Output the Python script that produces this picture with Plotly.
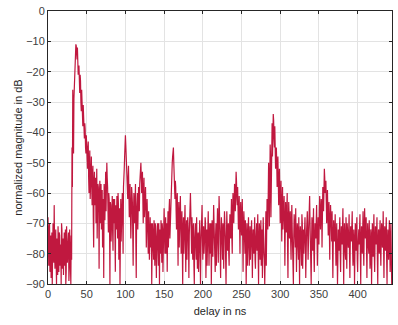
import numpy as np
import plotly.graph_objects as go

# normalized magnitude in dB at whole ns (0 .. 444 ns)
mag_db_whole = [
    -68, -84, -70, -79, -88, -73, -81, -76, -64, -85,   # 0
    -72, -90, -77, -71, -86, -74, -82, -90, -72, -80,   # 10
    -87, -73, -78, -90, -71, -83, -76, -89, -72, -81,   # 20
    -74, -45, -26, -47, -25, -16, -11, -14, -12, -21,   # 30
    -18, -27, -23, -33, -29, -38, -35, -42, -39, -47,   # 40
    -44, -52, -43, -60, -46, -56, -48, -64, -51, -78,   # 50
    -53, -60, -70, -52, -66, -58, -85, -56, -64, -72,   # 60
    -59, -68, -88, -61, -55, -66, -50, -58, -73, -62,   # 70
    -90, -64, -70, -61, -79, -66, -62, -86, -68, -61,   # 80
    -75, -64, -70, -90, -62, -72, -60, -80, -56, -48,   # 90
    -41, -47, -52, -62, -51, -68, -57, -75, -58, -63,   # 100
    -84, -60, -70, -57, -88, -62, -72, -58, -66, -54,   # 110
    -50, -60, -53, -70, -55, -64, -58, -78, -62, -74,   # 120
    -66, -82, -68, -72, -90, -70, -78, -69, -84, -71,   # 130
    -88, -73, -79, -70, -90, -75, -69, -83, -72, -77,   # 140
    -65, -80, -68, -74, -86, -66, -72, -62, -70, -58,   # 150
    -52, -48, -45, -55, -62, -58, -72, -60, -84, -63,   # 160
    -74, -61, -80, -66, -90, -68, -75, -64, -86, -69,   # 170
    -77, -71, -88, -66, -60, -74, -68, -82, -70, -90,   # 180
    -72, -78, -68, -85, -73, -80, -69, -90, -74, -64,   # 190
    -82, -71, -77, -68, -88, -72, -79, -66, -84, -70,   # 200
    -76, -90, -69, -81, -64, -75, -86, -70, -78, -65,   # 210
    -83, -61, -72, -88, -68, -77, -70, -85, -66, -74,   # 220
    -90, -66, -79, -70, -84, -67, -75, -62, -80, -60,   # 230
    -70, -57, -66, -53, -62, -58, -72, -61, -80, -63,   # 240
    -74, -62, -86, -66, -76, -69, -90, -70, -78, -68,   # 250
    -84, -71, -77, -69, -88, -72, -80, -68, -85, -73,   # 260
    -79, -67, -90, -70, -82, -69, -76, -88, -68, -80,   # 270
    -90, -70, -84, -62, -72, -50, -71, -44, -68, -40,   # 280
    -48, -34, -42, -38, -52, -45, -58, -48, -64, -52,   # 290
    -70, -56, -76, -58, -68, -61, -84, -63, -73, -60,   # 300
    -88, -63, -75, -66, -82, -64, -78, -90, -67, -74,   # 310
    -65, -86, -70, -78, -68, -90, -71, -80, -67, -85,   # 320
    -72, -77, -68, -88, -73, -66, -82, -70, -61, -76,   # 330
    -90, -68, -79, -65, -86, -70, -75, -64, -84, -68,   # 340
    -77, -61, -72, -62, -78, -58, -66, -52, -60, -56,   # 350
    -70, -59, -74, -63, -82, -64, -71, -66, -88, -69,   # 360
    -76, -67, -84, -70, -90, -72, -79, -68, -86, -71,   # 370
    -77, -65, -90, -70, -80, -68, -85, -73, -78, -67,   # 380
    -88, -71, -76, -66, -84, -72, -90, -70, -79, -68,   # 390
    -86, -73, -77, -67, -90, -71, -80, -66, -84, -65,   # 400
    -75, -68, -88, -70, -78, -69, -85, -72, -90, -70,   # 410
    -81, -67, -86, -71, -77, -68, -90, -72, -80, -69,   # 420
    -84, -70, -78, -66, -88, -71, -79, -68, -90, -72,   # 430
    -82, -69, -86, -70, -90,                            # 440
]

# normalized magnitude in dB at half ns (0.5 .. 443.5 ns)
mag_db_half = [
    -76, -72, -86, -74, -80, -90, -70, -83, -78, -74,   # 0.5
    -82, -75, -87, -79, -73, -84, -77, -70, -85, -75,   # 10.5
    -79, -84, -72, -86, -75, -80, -73, -85, -78, -90,   # 20.5
    -82, -58, -38, -29, -20, -13, -11.5, -16, -15, -19,  # 30.5
    -24, -21, -30, -26, -34, -31, -40, -37, -45, -41,   # 40.5
    -48, -45, -55, -50, -62, -49, -58, -54, -68, -56,   # 50.5
    -64, -55, -60, -75, -57, -63, -60, -70, -57, -66,   # 60.5
    -78, -62, -57, -69, -53, -60, -55, -66, -60, -70,   # 70.5
    -63, -76, -66, -73, -62, -70, -78, -64, -72, -66,   # 80.5
    -60, -82, -65, -67, -76, -63, -68, -58, -52, -44,   # 90.5
    -44, -50, -58, -55, -60, -64, -62, -69, -60, -72,   # 100.5
    -66, -64, -62, -76, -66, -60, -68, -62, -57, -52,   # 110.5
    -55, -57, -62, -60, -68, -61, -66, -70, -67, -80,   # 120.5
    -71, -75, -78, -70, -76, -73, -82, -75, -70, -79,   # 130.5
    -76, -70, -84, -74, -72, -80, -76, -70, -86, -68,   # 140.5
    -72, -75, -80, -70, -74, -78, -65, -75, -64, -55,   # 150.5
    -50, -46, -50, -60, -56, -66, -63, -70, -68, -78,   # 160.5
    -66, -70, -73, -78, -72, -80, -70, -76, -73, -82,   # 170.5
    -68, -76, -74, -70, -66, -80, -75, -72, -84, -76,   # 180.5
    -70, -82, -75, -76, -86, -72, -76, -80, -70, -73,   # 190.5
    -76, -80, -74, -70, -78, -84, -72, -76, -75, -80,   # 200.5
    -70, -80, -74, -76, -70, -80, -74, -84, -72, -74,   # 210.5
    -70, -66, -80, -74, -72, -82, -75, -72, -70, -80,   # 220.5
    -76, -72, -76, -80, -72, -70, -68, -74, -66, -64,   # 230.5
    -62, -60, -57, -56, -64, -66, -68, -70, -66, -70,   # 240.5
    -68, -74, -72, -70, -80, -74, -76, -84, -72, -76,   # 250.5
    -76, -82, -72, -76, -78, -74, -70, -82, -76, -70,   # 260.5
    -74, -80, -76, -72, -76, -84, -72, -76, -74, -82,   # 270.5
    -76, -66, -72, -66, -60, -56, -52, -48, -50, -37,   # 280.5
    -40, -36, -45, -42, -48, -50, -54, -56, -58, -62,   # 290.5
    -62, -66, -64, -72, -66, -70, -72, -68, -66, -78,   # 300.5
    -70, -68, -72, -76, -70, -72, -82, -74, -70, -78,   # 310.5
    -74, -76, -72, -82, -76, -74, -74, -84, -70, -76,   # 320.5
    -80, -72, -76, -80, -70, -74, -76, -64, -70, -84,   # 330.5
    -76, -72, -74, -80, -76, -72, -70, -74, -78, -72,   # 340.5
    -66, -68, -66, -64, -62, -60, -54, -55, -58, -64,   # 350.5
    -64, -66, -68, -72, -70, -68, -76, -74, -76, -72,   # 360.5
    -74, -78, -76, -80, -82, -74, -72, -80, -76, -74,   # 370.5
    -70, -78, -76, -74, -82, -76, -70, -76, -72, -80,   # 380.5
    -76, -74, -70, -78, -80, -76, -74, -72, -76, -82,   # 390.5
    -78, -72, -74, -80, -76, -74, -72, -78, -72, -70,   # 400.5
    -72, -78, -76, -74, -80, -76, -82, -74, -76, -74,   # 410.5
    -72, -80, -76, -74, -74, -82, -76, -74, -76, -78,   # 420.5
    -74, -72, -76, -80, -76, -74, -72, -82, -76, -78,   # 430.5
    -74, -78, -76, -80,                                 # 440.5
]

x_ticks = [0, 50, 100, 150, 200, 250, 300, 350, 400]
y_ticks = [0, -10, -20, -30, -40, -50, -60, -70, -80, -90]

# merge the two sample sets into one time-ordered series
delay_ns = np.concatenate([np.arange(len(mag_db_whole), dtype=float),
                           np.arange(len(mag_db_half), dtype=float) + 0.5])
mag_db = np.concatenate([np.array(mag_db_whole, dtype=float),
                         np.array(mag_db_half, dtype=float)])
order = np.argsort(delay_ns, kind="stable")
delay_ns = delay_ns[order]
mag_db = mag_db[order]

fig = go.Figure()
fig.add_trace(go.Scatter(
    x=delay_ns, y=mag_db, mode="lines",
    line=dict(color="#C0183F", width=1.2),
    showlegend=False,
))

font_family = "Liberation Sans, Arial, sans-serif"
axis_common = dict(
    showline=True, linecolor="#262626", linewidth=1, mirror="ticks",
    ticks="inside", ticklen=3, tickcolor="#262626",
    showgrid=True, gridcolor="#e3e3e3", gridwidth=1,
    zeroline=False, automargin=False,
    tickfont=dict(family=font_family, size=11, color="#404040"),
    title_font=dict(family=font_family, size=11, color="#262626"),
)

fig.update_xaxes(range=[0, 444.4], tickvals=x_ticks, title_text="delay in ns",
                 title_standoff=8, **axis_common)
fig.update_yaxes(range=[-90, 0], tickvals=y_ticks, title_text="normalized magnitude in dB",
                 title_standoff=1, **axis_common)

fig.update_layout(
    width=398, height=325,
    margin=dict(l=48, r=6, t=11, b=41),
    paper_bgcolor="white", plot_bgcolor="white",
    hovermode=False,
)

# remove the default page margin so the figure sits at the window origin
fig.write_html(
    "out.html",
    config={"displayModeBar": False, "staticPlot": True},
    post_script="document.body.style.margin='0';document.body.style.overflow='hidden';",
)
